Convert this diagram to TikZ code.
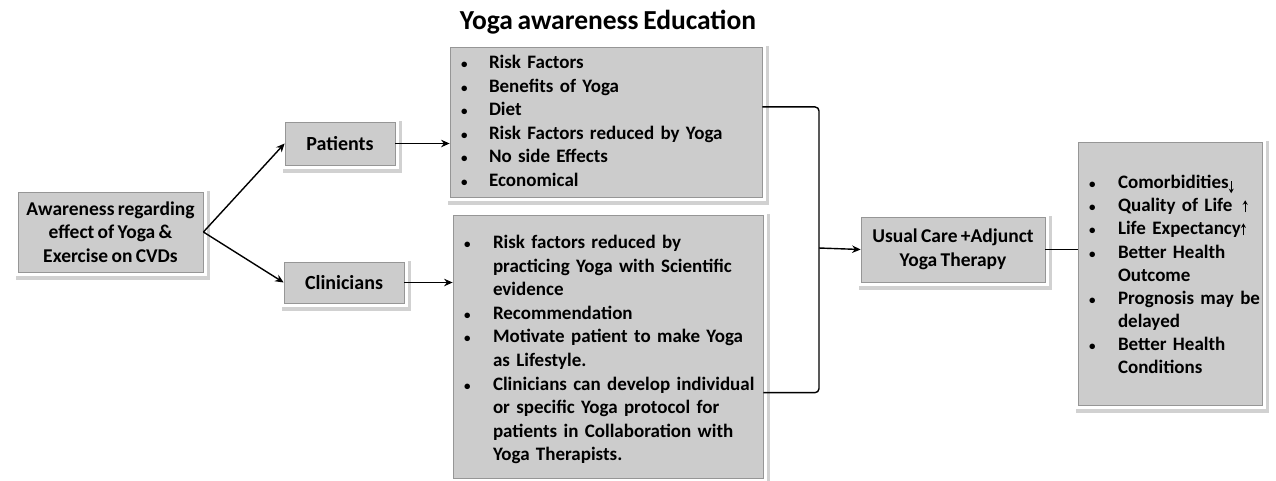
\documentclass[tikz,border=0pt]{standalone}
\usepackage{fontspec}
\setmainfont{Carlito}[WordSpace=0.75]
\usetikzlibrary{arrows.meta,calc}
\definecolor{boxgray}{RGB}{204,204,204}
\definecolor{boxedge}{RGB}{150,150,150}
\tikzset{
  box/.style={fill=boxgray, draw=boxedge, line width=0.8pt,
    preaction={draw=black!18, line width=9pt, transform canvas={xshift=2pt,yshift=-3pt}},
    preaction={draw=white, line width=8pt},
    font=\bfseries\fontsize{20}{23.5}\selectfont, inner sep=0pt},
  listbox/.style={box, font=\bfseries\fontsize{19}{23.5}\selectfont, inner xsep=11pt},
  arr/.style={line width=1.4pt, -{Stealth[length=8.5pt,width=7.5pt]}},
  conn/.style={line width=1.4pt},
}
\newcommand{\bul}{{\fontsize{13}{13}\selectfont\textbullet}}
\newcommand{\dnarr}{\raisebox{-5pt}{\tikz\draw[line width=1.1pt,-{Stealth[length=4.5pt,width=5pt]}] (0pt,12pt)--(0pt,0pt);}}
\newcommand{\uparr}{\raisebox{-1pt}{\tikz\draw[line width=1.1pt,-{Stealth[length=4.5pt,width=5pt]}] (0pt,0pt)--(0pt,12pt);}}
\begin{document}
\begin{tikzpicture}[x=1pt,y=-1pt]
\useasboundingbox (0,0) rectangle (1276,480);
\node[font=\bfseries\fontsize{27.5}{30}\selectfont] (title) at (608,22) {Yoga awareness Education};
\node[box, font=\bfseries\fontsize{19.5}{23.5}\selectfont, align=center, minimum width=185pt, minimum height=80pt] (aware) at (110.5,232)
  {Awareness regarding\\effect of Yoga \&\\Exercise on CVDs};
\node[box, minimum width=110pt, minimum height=43pt] (pat) at (340,143.5) {Patients};
\node[box, minimum width=120pt, minimum height=41pt] (clin) at (344,282.5) {Clinicians};
\node[listbox, text width=290pt, minimum height=150pt] (b2) at (606,122)
  {\begin{tabular}{@{}p{28pt}@{}l@{}}
   \bul & Risk Factors\\ \bul & Benefits of Yoga\\ \bul & Diet\\ \bul & Risk Factors reduced by Yoga\\ \bul & No side Effects\\ \bul & Economical\\[-2pt]
   \end{tabular}};
\node[listbox, font=\bfseries\fontsize{19}{23.6}\selectfont, text width=288pt, minimum height=263pt] (b3) at (608,346.5)
  {\begin{tabular}{@{}p{29pt}@{}l@{}}
   \bul & Risk factors reduced by\\ & practicing Yoga with Scientific\\ & evidence\\ \bul & Recommendation\\ \bul & Motivate patient to make Yoga\\ & as Lifestyle.\\ \bul & Clinicians can develop individual\\ & or specific Yoga protocol for\\ & patients in Collaboration with\\ & Yoga Therapists.\\[-7pt]
   \end{tabular}};
\node[box, font=\bfseries\fontsize{19.5}{23.5}\selectfont, align=center, minimum width=184pt, minimum height=65pt] (usual) at (953,249.5)
  {Usual Care +Adjunct\\Yoga Therapy};
\node[listbox, font=\bfseries\fontsize{19}{23.1}\selectfont, text width=162pt, minimum height=263pt] (res) at (1170,273.5)
  {\begin{tabular}{@{}p{29pt}@{}l@{}}
   \bul & Comorbidities\dnarr\\
   \bul & Quality of Life \hspace{4pt}\uparr\\
   \bul & Life Expectancy\uparr\\
   \bul & Better Health\\ & Outcome\\ \bul & Prognosis may be\\ & delayed\\ \bul & Better Health\\ & Conditions\\[-6pt]
   \end{tabular}};
% connectors
\draw[arr] (aware.east) -- (pat.west);
\draw[arr] (aware.east) -- (clin.west);
\draw[arr] (pat.east) -- (pat.east -| b2.west);
\draw[arr] (clin.east) -- (clin.east -| b3.west);
\coordinate (b2r) at ($(b2.north east)!0.4!(b2.south east)$);
\coordinate (b3r) at ($(b3.north east)!0.675!(b3.south east)$);
\coordinate (bx) at (819,248);
\draw[conn, rounded corners=4pt] (b2r) -- (b2r -| bx) -- (b3r -| bx) -- (b3r);
\draw[arr] (bx) -- (usual.west);
\draw[conn] (usual.east) -- (usual.east -| res.west);
\end{tikzpicture}
\end{document}
